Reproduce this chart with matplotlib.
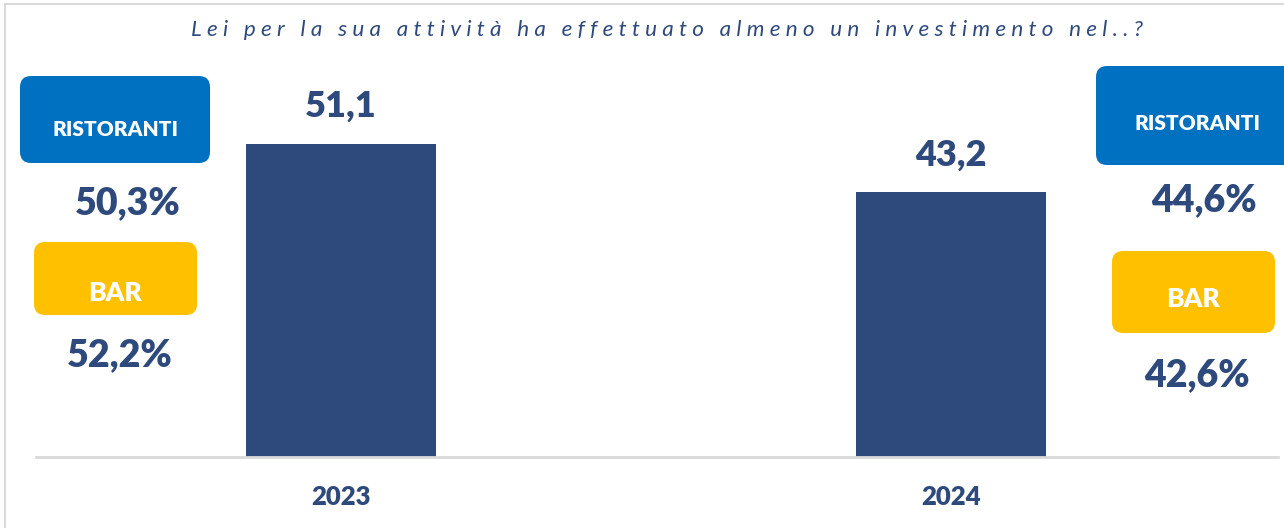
import matplotlib.pyplot as plt
from matplotlib.patches import FancyBboxPatch
from matplotlib.lines import Line2D
from matplotlib.transforms import IdentityTransform

W, H = 1284, 528

years = ['2023', '2024']
values = [51.1, 43.2]
ristoranti = ['50,3%', '44,6%']
bar_pct = ['52,2%', '42,6%']
title = 'Lei per la sua attività ha effettuato almeno un investimento nel..?'

navy = '#2E4A7D'
blue = '#0070C0'
gold = '#FFC000'
font = ['Lato', 'DejaVu Sans']

fig = plt.figure(figsize=(W / 100, H / 100), dpi=100)


def fx(x):
    return x / W


def fy(y):
    return 1 - y / H


# axes: baseline at y=457 px, x from 36 to 1278 px
ax = fig.add_axes([fx(36), fy(457), fx(1278 - 36), (457 - 50) / H])
ax.bar([0, 1], values, width=0.313, color=navy)
ax.set_xlim(-0.5, 1.536)
ax.set_ylim(0, 407 / 6.13)
for i, v in enumerate(values):
    ax.text(i, v + 3.4, f'{v:.1f}'.replace('.', ','), ha='center', va='bottom',
            fontsize=26, fontweight='heavy', color=navy, family=font)
ax.set_xticks([])
ax.set_yticks([])
for s in ['top', 'right', 'left']:
    ax.spines[s].set_visible(False)
ax.spines['bottom'].set_color('#D9D9D9')
ax.spines['bottom'].set_linewidth(2)

for i, y in enumerate(years):
    fig.text(fx([341, 951][i]), fy(497), y, ha='center', va='center',
             fontsize=18.5, fontweight='heavy', color=navy, family=font)

# title with letter spacing
fig.text(fx(667), fy(30), ' '.join(title), ha='center', va='center',
         fontsize=16.2, style='italic', color=navy, family=font)

# frame
fig.add_artist(Line2D([fx(5), fx(5)], [fy(4), 0], color='#D9D9D9', lw=1.5,
                      transform=fig.transFigure))
fig.add_artist(Line2D([fx(5), 1], [fy(4), fy(4)], color='#D9D9D9', lw=1.5,
                      transform=fig.transFigure))


def box(x0, y0, x1, y1, color, label, ty, size):
    p = FancyBboxPatch((x0, H - y1), x1 - x0, y1 - y0,
                       boxstyle='round,pad=0,rounding_size=11',
                       transform=IdentityTransform(), facecolor=color,
                       edgecolor='none')
    fig.add_artist(p)
    fig.text(fx((x0 + x1) / 2), fy(ty), label, ha='center', va='center',
             fontsize=size, fontweight='heavy', color='white', family=font)


box(20, 76, 210, 163, blue, 'RISTORANTI', 129, 15)
box(34, 242, 197, 315, gold, 'BAR', 293, 19)
box(1096, 66, 1300, 165, blue, 'RISTORANTI', 124, 15)
box(1112, 251, 1275, 333, gold, 'BAR', 299, 19)

pct_style = dict(ha='center', va='center', fontsize=27, fontweight='heavy',
                 color=navy, family=font)
fig.text(fx(128), fy(203), ristoranti[0], **pct_style)
fig.text(fx(120), fy(355), bar_pct[0], **pct_style)
fig.text(fx(1204), fy(200), ristoranti[1], **pct_style)
fig.text(fx(1197), fy(375), bar_pct[1], **pct_style)

fig.savefig('out.png', dpi=100)
